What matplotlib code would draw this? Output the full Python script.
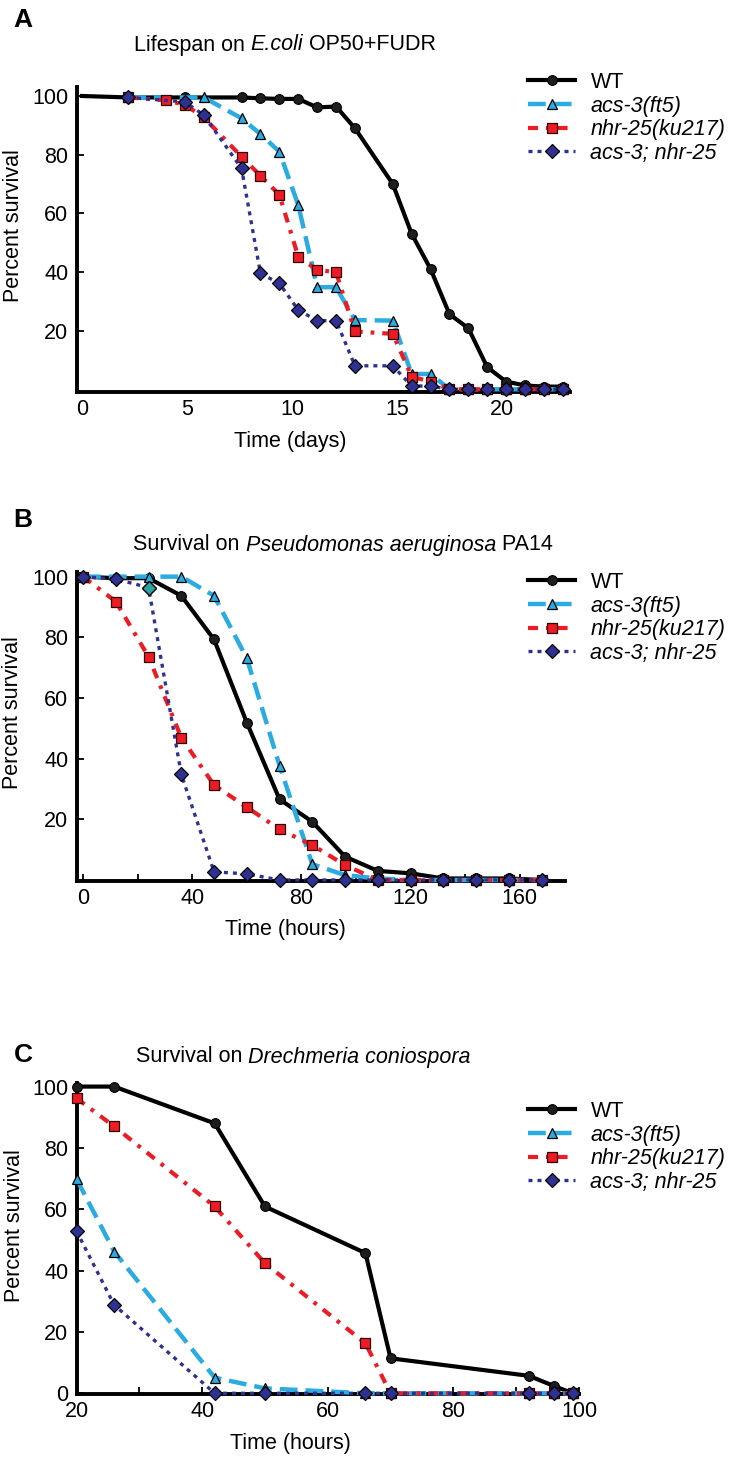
import matplotlib
matplotlib.use('Agg')
import matplotlib.pyplot as plt
from matplotlib.ticker import FixedLocator

plt.rcParams['font.family'] = ['Liberation Sans', 'DejaVu Sans']

labels = ['WT', 'acs-3(ft5)', 'nhr-25(ku217)', 'acs-3; nhr-25']

# A: lifespan on E.coli OP50+FUDR (days)
a_days_wt = [0, 2.2, 4.9, 7.6, 8.5, 9.4, 10.3, 11.2, 12.1, 13.0, 14.8, 15.7, 16.6,
             17.5, 18.4, 19.3, 20.2, 21.1, 22.0, 22.9]
a_wt = [100, 99.5, 99.5, 99.5, 99.2, 99, 99, 96.1, 96.4, 89, 70, 53, 41, 25.6, 20.8,
        7.5, 2.6, 1.3, 0.9, 0.9]
a_days_acs = [2.2, 5.8, 7.6, 8.5, 9.4, 10.3, 11.2, 12.1, 13.0, 14.8, 15.7, 16.6, 17.5,
              18.4, 19.3, 20.2, 21.1, 22.0, 22.9]
a_acs = [99.5, 99.5, 92.4, 87, 81, 62.8, 34.8, 34.8, 23.6, 23.4, 5.2, 5.2, 0, 0, 0, 0,
         0, 0, 0]
a_days_nhr = [2.2, 4.0, 4.9, 5.8, 7.6, 8.5, 9.4, 10.3, 11.2, 12.1, 13.0, 14.8, 15.7,
              16.6, 17.5, 18.4, 19.3, 20.2, 21.1, 22.0, 22.9]
a_nhr = [99.5, 98.5, 97, 92.7, 79.3, 72.8, 66.3, 45.2, 40.7, 39.9, 19.7, 18.9, 4.3, 2.6,
         0, 0, 0, 0, 0, 0, 0]
a_days_dko = [2.2, 4.9, 5.8, 7.6, 8.5, 9.4, 10.3, 11.2, 12.1, 13.0, 14.8, 15.7, 16.6,
              17.5, 18.4, 19.3, 20.2, 21.1, 22.0, 22.9]
a_dko = [99.5, 98, 93.5, 75.3, 39.5, 36.1, 27, 23.4, 23.4, 8, 8, 1.1, 1.1, 0, 0, 0, 0,
         0, 0, 0]

# B: survival on Pseudomonas aeruginosa PA14 (hours)
b_hours = [0, 12, 24, 36, 48, 60, 72, 84, 96, 108, 120, 132, 144, 156, 168]
b_wt = [100, 99.5, 99.5, 93.7, 79.3, 51.9, 26.6, 19.2, 7.7, 3.0, 2.2, 0.5, 0.5, 0.5, 0]
b_acs = [100, 100, 100, 100, 93.7, 73.1, 37.7, 5.2, 1.6, 0.5, 0, 0, 0, 0, 0]
b_nhr = [100, 91.8, 73.6, 46.9, 31.3, 24.0, 16.7, 11.5, 4.9, 0, 0, 0, 0, 0, 0]
b_dko = [100, 99.2, 96.4, 34.8, 2.7, 2.0, 0, 0, 0, 0, 0, 0, 0, 0, 0]

# C: survival on Drechmeria coniospora (hours)
c_hours = [20, 26, 42, 50, 66, 70, 92, 96, 99]
c_wt = [100, 100, 88, 60.9, 45.7, 11.4, 5.7, 2.4, 0]
c_acs = [69.9, 46.2, 5.1, 1.6, 0, 0, 0, 0, 0]
c_nhr = [96.2, 87, 60.9, 42.4, 16.3, 0, 0, 0, 0]
c_dko = [52.9, 28.8, 0, 0, 0, 0, 0, 0, 0]

styles = [
    dict(color='black', lw=3, ls='-', marker='o', ms=7, mfc='#1e1e1e', mec='black', mew=0.8),
    dict(color='#2AABE2', lw=3.2, ls=(0, (4, 1.8)), marker='^', ms=7.5, mfc='#2AABE2',
         mec='black', mew=0.9),
    dict(color='#ED1C24', lw=3, ls=(0, (2.4, 1.9, 0.9, 1.9)), marker='s', ms=7.5,
         mfc='#ED1C24', mec='#300000', mew=0.9),
    dict(color='#2E3192', lw=2.4, ls=(0, (1.2, 1.5)), marker='D', ms=7.5, mfc='#2E3192',
         mec='black', mew=0.9),
]

W, H = 737, 1467
fig = plt.figure(figsize=(W / 100, H / 100), dpi=100)
FS = 15.5


def fx(px):
    return px / W


def fy(py):
    return 1 - py / H


def mixed_text(xc, yc, parts):
    # title made of normal and italic pieces, centred on (xc, yc) in pixels
    r = fig.canvas.get_renderer()
    texts = [fig.text(0, fy(yc), s, fontsize=FS, fontstyle=st, va='center')
             for s, st in parts]
    widths = [t.get_window_extent(r).width for t in texts]
    x = xc - sum(widths) / 2
    for t, w in zip(texts, widths):
        t.set_x(fx(x))
        x += w


def panel(rect, series, xlim, ylim, xticks, yticks, xminor=None, xtick_len=5,
          wt_skip_first=False):
    ax = fig.add_axes(rect)
    lines = []
    for i, ((x, y), st) in enumerate(zip(series, styles)):
        kw = dict(st)
        if i == 0 and wt_skip_first:
            kw['markevery'] = list(range(1, len(x)))
        ln, = ax.plot(x, y, clip_on=False, zorder=3 + i, **kw)
        lines.append(ln)
    ax.set_xlim(*xlim)
    ax.set_ylim(*ylim)
    for s in ['top', 'right']:
        ax.spines[s].set_visible(False)
    for s in ['left', 'bottom']:
        ax.spines[s].set_linewidth(2.8)
    ax.set_xticks(xticks)
    ax.set_yticks(yticks)
    if xminor is not None:
        ax.xaxis.set_minor_locator(FixedLocator(xminor))
    ax.tick_params(axis='y', direction='in', length=5, width=1.3, labelsize=FS, pad=6)
    ax.tick_params(axis='x', which='both', direction='in', length=xtick_len, width=1.3,
                   labelsize=FS, pad=5)
    return ax, lines


def add_legend(ax, lines, top_px):
    leg = ax.legend(lines, labels, loc='upper left',
                    bbox_to_anchor=(fx(528), fy(top_px)), bbox_transform=fig.transFigure,
                    frameon=False, borderpad=0, borderaxespad=0, handlelength=2.2,
                    handletextpad=0.7, labelspacing=0.12, numpoints=1, fontsize=FS)
    for t in leg.get_texts()[1:]:
        t.set_fontstyle('italic')


# panel A
axA, lnA = panel([fx(76.5), fy(391.6), fx(493.5), 305 / H],
                 [(a_days_wt, a_wt), (a_days_acs, a_acs), (a_days_nhr, a_nhr),
                  (a_days_dko, a_dko)],
                 (-0.26, 23.24), (-0.8, 103.2), [0, 5, 10, 15, 20], [20, 40, 60, 80, 100],
                 xtick_len=0, wt_skip_first=True)
add_legend(axA, lnA, 72)
fig.text(fx(23), fy(20), 'A', fontsize=19, fontweight='bold', ha='center', va='center')
mixed_text(285, 45, [('Lifespan on ', 'normal'), ('E.coli', 'italic'),
                     (' OP50+FUDR', 'normal')])
fig.text(fx(14), fy(226), 'Percent survival', fontsize=FS, rotation=90, ha='center',
         va='center')
fig.text(fx(290), fy(441), 'Time (days)', fontsize=FS, ha='center', va='center')

# panel B
axB, lnB = panel([fx(76.5), fy(881.5), fx(488.5), 310 / H],
                 [(b_hours, b_wt), (b_hours, b_acs), (b_hours, b_nhr), (b_hours, b_dko)],
                 (-2.4, 176.6), (-0.5, 101.7), [0, 40, 80, 120, 160],
                 [20, 40, 60, 80, 100], xminor=[20, 60, 100, 140])
# one diamond in the original is drawn in teal
axB.plot(b_hours[2], b_dko[2], marker='D', ms=7.5, mfc='#2BA3A0', mec='black', mew=0.9,
         ls='none', clip_on=False, zorder=8)
add_legend(axB, lnB, 572)
fig.text(fx(23), fy(520), 'B', fontsize=19, fontweight='bold', ha='center', va='center')
mixed_text(343, 545, [('Survival on ', 'normal'), ('Pseudomonas aeruginosa', 'italic'),
                      (' PA14', 'normal')])
fig.text(fx(13), fy(713), 'Percent survival', fontsize=FS, rotation=90, ha='center',
         va='center')
fig.text(fx(285), fy(930), 'Time (hours)', fontsize=FS, ha='center', va='center')

# panel C
axC, lnC = panel([fx(76.5), fy(1394.2), fx(502.5), 311.3 / H],
                 [(c_hours, c_wt), (c_hours, c_acs), (c_hours, c_nhr), (c_hours, c_dko)],
                 (20, 100), (-0.3, 101.2), [20, 40, 60, 80, 100],
                 [0, 20, 40, 60, 80, 100], xminor=[30, 50, 70, 90])
add_legend(axC, lnC, 1101)
fig.text(fx(23), fy(1055), 'C', fontsize=19, fontweight='bold', ha='center', va='center')
mixed_text(303, 1057, [('Survival on ', 'normal'), ('Drechmeria coniospora', 'italic')])
fig.text(fx(15), fy(1226), 'Percent survival', fontsize=FS, rotation=90, ha='center',
         va='center')
fig.text(fx(290), fy(1443), 'Time (hours)', fontsize=FS, ha='center', va='center')

fig.savefig('out.png', dpi=100)
